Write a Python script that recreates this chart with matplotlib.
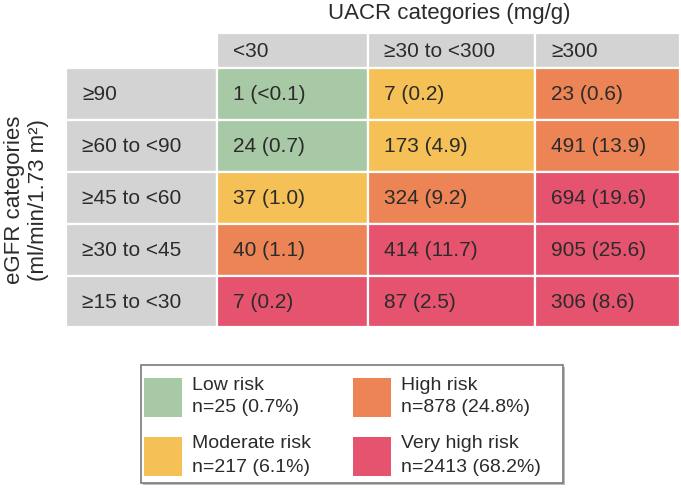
import matplotlib
matplotlib.use("Agg")
import matplotlib.pyplot as plt
from matplotlib.patches import Rectangle

plt.rcParams['font.family'] = ['Liberation Sans', 'DejaVu Sans']

# 数据
uacr_labels = ['<30', '≥30 to <300', '≥300']
egfr_labels = ['≥90', '≥60 to <90', '≥45 to <60', '≥30 to <45', '≥15 to <30']
counts = [
    [1, 7, 23],
    [24, 173, 491],
    [37, 324, 694],
    [40, 414, 905],
    [7, 87, 306],
]
pcts = [
    ['<0.1', '0.2', '0.6'],
    ['0.7', '4.9', '13.9'],
    ['1.0', '9.2', '19.6'],
    ['1.1', '11.7', '25.6'],
    ['0.2', '2.5', '8.6'],
]
# 0=低, 1=中, 2=高, 3=极高
risk = [
    [0, 1, 2],
    [0, 1, 2],
    [1, 2, 3],
    [2, 3, 3],
    [3, 3, 3],
]
risk_names = ['Low risk', 'Moderate risk', 'High risk', 'Very high risk']
risk_n = [25, 217, 878, 2413]
risk_pct = ['0.7', '6.1', '24.8', '68.2']

risk_colors = ['#a8c9a5', '#f5c156', '#ec8456', '#e5536f']
gray = '#d3d3d3'
txt = '#2b2b2b'

# 版面（像素坐标）
col_edges = [66, 217, 368, 535, 680]
row_edges = [33, 68, 120, 172, 224, 276, 327]
pad = 16
fs = 15

fig = plt.figure(figsize=(6.81, 5.0), dpi=100)
ax = fig.add_axes([0, 0, 1, 1])
ax.set_xlim(0, 681)
ax.set_ylim(500, 0)
ax.axis('off')


def cell(x0, x1, y0, y1, color, label):
    ax.add_patch(Rectangle((x0, y0), x1 - x0, y1 - y0, facecolor=color,
                           edgecolor='white', linewidth=1.6))
    ax.text(x0 + pad, (y0 + y1) / 2 + 1, label, fontsize=fs, color=txt,
            ha='left', va='center')


# 表头
for j, lab in enumerate(uacr_labels):
    cell(col_edges[j + 1], col_edges[j + 2], row_edges[0], row_edges[1], gray, lab)

# 行
for i, lab in enumerate(egfr_labels):
    y0, y1 = row_edges[i + 1], row_edges[i + 2]
    cell(col_edges[0], col_edges[1], y0, y1, gray, lab)
    for j in range(3):
        s = f'{counts[i][j]} ({pcts[i][j]})'
        cell(col_edges[j + 1], col_edges[j + 2], y0, y1, risk_colors[risk[i][j]], s)

# 标题
ax.text(449, 14, 'UACR categories (mg/g)',
        fontsize=16, color=txt, ha='center', va='center')
ax.text(15, 200, 'eGFR categories', fontsize=16, color=txt,
        ha='center', va='center', rotation=90)
ax.text(39, 200, '(ml/min/1.73 m²)', fontsize=16, color=txt,
        ha='center', va='center', rotation=90)

# 图例框
ax.add_patch(Rectangle((143, 367), 422, 118, facecolor='#bdbdbd',
                       edgecolor='none'))
ax.add_patch(Rectangle((141, 365), 422, 118, facecolor='white',
                       edgecolor='#7a7a7a', linewidth=1.2))

leg_x = [144, 353]
leg_y = [378, 437]
for k in range(4):
    c, r = divmod(k, 2)
    x, y = leg_x[c], leg_y[r]
    ax.add_patch(Rectangle((x, y), 38, 39, facecolor=risk_colors[k],
                           edgecolor='none'))
    ax.text(x + 48, y + 7, risk_names[k], fontsize=14, color=txt,
            ha='left', va='center')
    ax.text(x + 48, y + 30, f'n={risk_n[k]} ({risk_pct[k]}%)', fontsize=14,
            color=txt, ha='left', va='center')

fig.savefig('out.png', dpi=100)
